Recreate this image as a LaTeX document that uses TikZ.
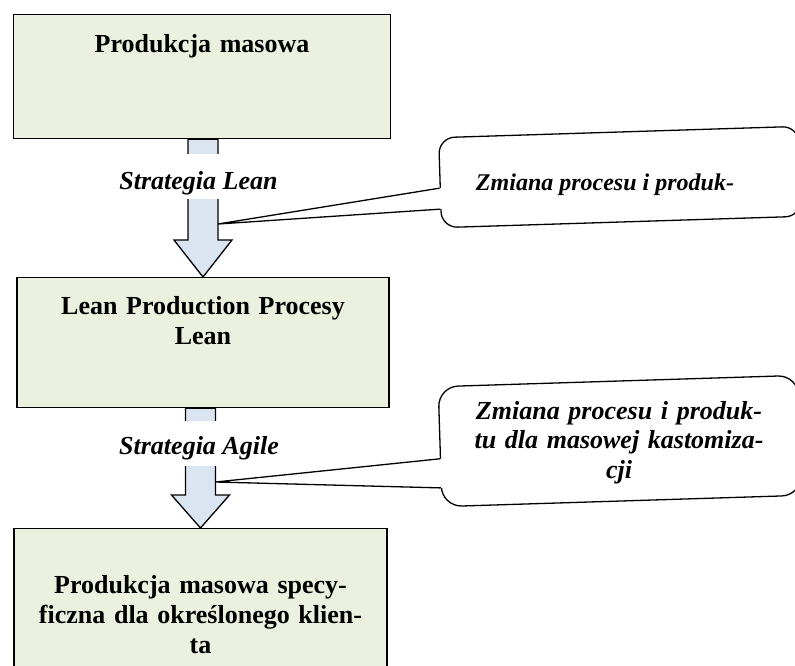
\documentclass[tikz,border=0pt]{standalone}
\usepackage{fontspec}
\setmainfont{Liberation Serif}
\usetikzlibrary{calc,positioning}
\definecolor{stagefill}{HTML}{EBF1DE}
\definecolor{arrowfill}{HTML}{DBE5F1}

\begin{document}
\begin{tikzpicture}[
	x=1pt, y=1pt,
	stage/.style={
		rectangle,
		draw,
		line width=1.3pt,
		fill=stagefill,
		align=center,
		inner sep=0pt,
		anchor=north,
		font=\fontsize{26}{30}\selectfont\bfseries,
	},
	FlowArrow/.style={% block arrows between the stages
		draw,
		line width=1.3pt,
		fill=arrowfill,
		line join=miter,
	},
	strategy/.style={
		fill=white,
		inner xsep=3pt,
		inner ysep=0pt,
		anchor=base,
		font=\fontsize{26}{30}\selectfont\bfseries\itshape,
	},
	note/.style={
		rectangle,
		rounded corners=16pt,
		draw,
		line width=1.3pt,
		fill=white,
		rotate=1.8,
		minimum width=360pt,
	},
	noteText/.style={
		align=center,
		inner sep=0pt,
		anchor=base,
	},
	Pointer/.style={
		line width=1.3pt,
		line join=miter,
	},
]
	\useasboundingbox (0,0) rectangle (795,-665);
	\clip (0,0) rectangle (795,-665);

	\node [stage, text width=377pt, text height=38pt, text depth=86pt] (mass) at (202,-14) {Produkcja masowa};
	\node [stage, text width=372pt, text height=37pt, text depth=93pt] (lean) at (203,-277) {Lean Production Procesy\\Lean};
	\node [stage, text width=373pt, text height=65pt, text depth=90pt] (custom) at (200.5,-528) {Produkcja masowa specy-\\ficzna dla określonego klien-\\ta};

	\draw [FlowArrow] let \p1=(mass.south), \p2=(lean.north) in
		(\x2-15pt,\y1) -- (\x2-15pt,\y2+37pt) -- (\x2-29pt,\y2+37pt) -- (\p2)
		-- (\x2+29pt,\y2+37pt) -- (\x2+15pt,\y2+37pt) -- (\x2+15pt,\y1) -- cycle;
	\draw [FlowArrow] let \p1=(lean.south), \p2=(custom.north) in
		(\x2-15pt,\y1) -- (\x2-15pt,\y2+33pt) -- (\x2-29pt,\y2+33pt) -- (\p2)
		-- (\x2+29pt,\y2+33pt) -- (\x2+15pt,\y2+33pt) -- (\x2+15pt,\y1) -- cycle;

	\node [strategy, text height=35pt, text depth=10pt] (leanStrategy) at ($(mass.south)+(-3.5,-50)$) {Strategia Lean};
	\node [strategy, text height=33pt, text depth=12pt] (agileStrategy) at ($(lean.south)+(-4,-46)$) {Strategia Agile};

	% callouts
	\node [note, minimum height=90pt] (noteA) at (620,-177) {};
	\node [note, minimum height=120pt, rounded corners=20pt] (noteB) at (620,-441) {};

	\coordinate (leanTip) at ($(lean.north)+(15,53)$);
	\coordinate (customTip) at ($(custom.north)+(15,46)$);
	\coordinate (noteA1) at ($(noteA.north west)!0.56!(noteA.south west)$);
	\coordinate (noteA2) at ($(noteA.north west)!0.79!(noteA.south west)$);
	\coordinate (noteB1) at ($(noteB.north west)!0.6!(noteB.south west)$);
	\coordinate (noteB2) at ($(noteB.north west)!0.84!(noteB.south west)$);

	\fill [white] (noteA1) -- (leanTip) -- (noteA2) -- ($(noteA2)+(3,0)$) -- ($(noteA1)+(3,0)$) -- cycle;
	\draw [Pointer] (noteA1) -- (leanTip) -- (noteA2);
	\fill [white] (noteB1) -- (customTip) -- (noteB2) -- ($(noteB2)+(3,0)$) -- ($(noteB1)+(3,0)$) -- cycle;
	\draw [Pointer] (noteB1) -- (customTip) -- (noteB2);

	\node [noteText, font=\fontsize{24}{29}\selectfont\bfseries\itshape] (noteAtext) at ($(noteA.center)+(-15,-13)$) {Zmiana procesu i produk-};
	\node [noteText, text width=330pt, font=\fontsize{26}{29.5}\selectfont\bfseries\itshape] (noteBtext) at ($(noteB.center)+(-1,22)$) {Zmiana procesu i produk-\\tu dla masowej kastomiza-\\cji};
\end{tikzpicture}
\end{document}
